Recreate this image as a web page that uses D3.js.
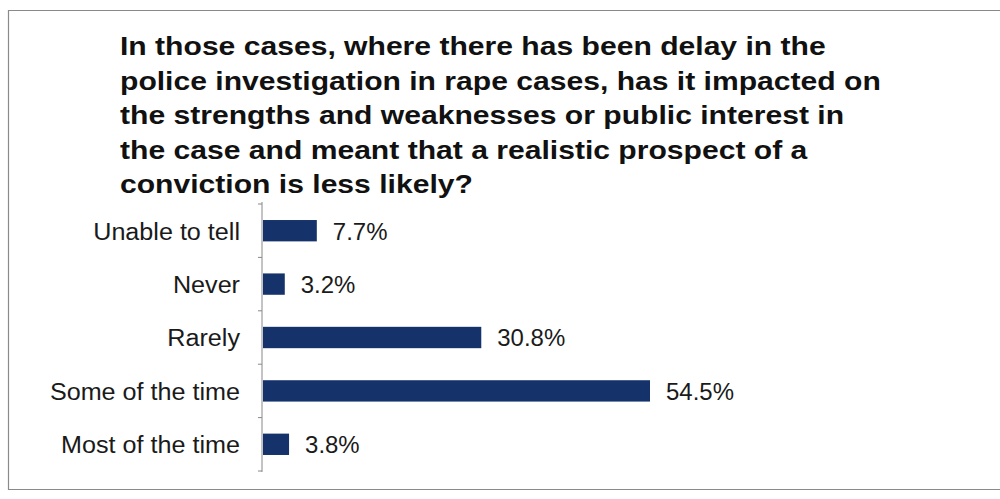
<!DOCTYPE html>
<html>
<head>
<meta charset="utf-8">
<script src="https://cdn.jsdelivr.net/npm/d3@7"></script>
<style>
  html, body { margin: 0; padding: 0; background: #fff; }
  svg { display: block; }
</style>
</head>
<body>
<svg id="chart" width="1000" height="499"></svg>
<script>
// Survey responses (percent of respondents)
const categories = ["Unable to tell", "Never", "Rarely", "Some of the time", "Most of the time"];
const values = [7.7, 3.2, 30.8, 54.5, 3.8];
const valueLabels = ["7.7%", "3.2%", "30.8%", "54.5%", "3.8%"];
const titleLines = [
  "In those cases, where there has been delay in the",
  "police investigation in rape cases, has it impacted on",
  "the strengths and weaknesses or public interest in",
  "the case and meant that a realistic prospect of a",
  "conviction is less likely?"
];

const svg = d3.select("#chart");
const font = "'Liberation Sans', Arial, sans-serif";

// Widen text horizontally by a factor, keeping its anchor point
function widen(sel, factor) {
  sel.each(function () {
    const len = this.getComputedTextLength();
    d3.select(this)
      .attr("textLength", len * factor)
      .attr("lengthAdjust", "spacingAndGlyphs");
  });
}

// Frame (top, left, bottom edges; right edge runs past the page)
svg.append("path")
  .attr("d", "M1005,10.5 H8.5 V489.5 H1005")
  .attr("fill", "none")
  .attr("stroke", "#8a8a8a")
  .attr("stroke-width", 1.2);

// Title
const titleSel = svg.append("g").selectAll("text").data(titleLines).join("text")
  .attr("x", 120)
  .attr("y", (d, i) => 55 + i * 34.5)
  .attr("font-family", font)
  .attr("font-weight", "bold")
  .attr("font-size", 25.5)
  .attr("fill", "#111")
  .text(d => d);
widen(titleSel, 1.18);

// Plot area
const x0 = 262, plotTop = 204, plotBottom = 471;
const x = d3.scaleLinear().domain([0, 54.5]).range([x0, 650]);
const yBand = d3.scaleBand().domain(categories).range([plotTop, plotBottom]);
const y = d3.scaleBand().domain(categories).range([plotTop, plotBottom]).paddingInner(0.6).paddingOuter(0.3);

// Category axis with ticks between bands
const axis = svg.append("g").attr("transform", `translate(${x0},0)`);
axis.append("line")
  .attr("y1", plotTop - 2).attr("y2", plotBottom + 1)
  .attr("stroke", "#888").attr("stroke-width", 1);
const tickYs = categories.map(c => yBand(c)).concat([plotBottom]);
axis.selectAll("line.tick").data(tickYs).join("line")
  .attr("class", "tick")
  .attr("x1", -4).attr("x2", 0)
  .attr("y1", d => d).attr("y2", d => d)
  .attr("stroke", "#888");

const catSel = svg.append("g").selectAll("text").data(categories).join("text")
  .attr("x", 240)
  .attr("y", d => yBand(d) + yBand.bandwidth() / 2)
  .attr("dy", "0.38em")
  .attr("text-anchor", "end")
  .attr("font-family", font)
  .attr("font-size", 23.5)
  .attr("fill", "#1a1a1a")
  .text(d => d);
widen(catSel, 1.07);

// Bars
svg.append("g").selectAll("rect").data(values).join("rect")
  .attr("x", x0 + 1)
  .attr("y", (d, i) => y(categories[i]))
  .attr("width", d => x(d) - x0 - 1)
  .attr("height", y.bandwidth())
  .attr("fill", "#15336a");

// Value labels
const valSel = svg.append("g").selectAll("text").data(values).join("text")
  .attr("x", d => x(d) + 16)
  .attr("y", (d, i) => yBand(categories[i]) + yBand.bandwidth() / 2)
  .attr("dy", "0.38em")
  .attr("font-family", font)
  .attr("font-size", 23.5)
  .attr("fill", "#1a1a1a")
  .text((d, i) => valueLabels[i]);
widen(valSel, 1.02);
</script>
</body>
</html>
